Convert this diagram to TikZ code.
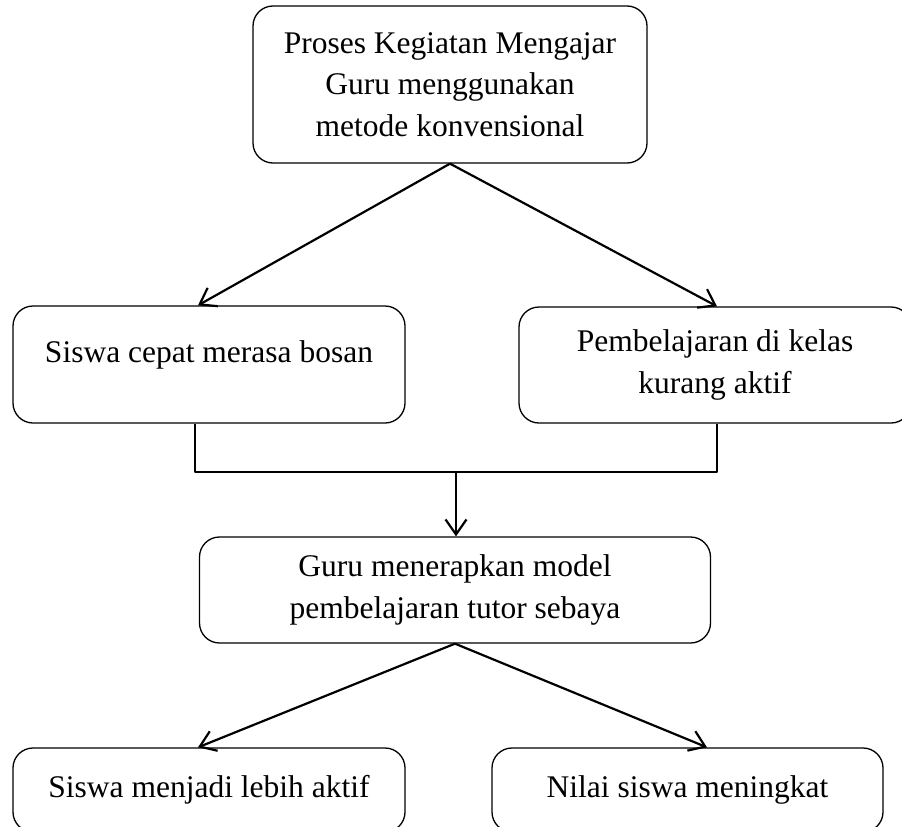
\documentclass[tikz,border=0pt]{standalone}
\usepackage{fontspec}
\setmainfont{Liberation Serif}
\usetikzlibrary{arrows.meta}
\begin{document}
\begin{tikzpicture}[x=1pt,y=-1pt,line join=round,
	kotak/.style={draw,rounded corners=20pt,line width=1.3pt,align=center,inner sep=0pt,
		font=\fontsize{31.5}{41.5}\selectfont},
	panah/.style={line width=2.2pt,-{Straight Barb[length=15pt,width=21pt,line width=2.2pt]}},
	garis/.style={line width=2.2pt}]
			\def \lebar{392};
			\useasboundingbox (0,0) rectangle (902,827);
			\clip (0,0) rectangle (902,827);
			\node[kotak,minimum width=394,minimum height=157] (proses) at (450,84.5) {Proses Kegiatan Mengajar\\Guru menggunakan\\metode konvensional};
			\node[kotak,minimum width=\lebar,minimum height=117,text depth=26pt] (bosan) at (209,364.5) {Siswa cepat merasa bosan};
			\node[kotak,minimum width=\lebar,minimum height=116] (kurang) at (715,365) {Pembelajaran di kelas\\kurang aktif};
			\node[kotak,minimum width=511,minimum height=106] (tutor) at (455,590) {Guru menerapkan model\\pembelajaran tutor sebaya};
			\node[kotak,minimum width=\lebar,minimum height=84] (aktif) at (209,790) {Siswa menjadi lebih aktif};
			\node[kotak,minimum width=391,minimum height=84] (nilai) at (687.5,790) {Nilai siswa meningkat};
			\coordinate (gabung) at (456,472);
			\draw[panah] (proses.south) -- ([xshift=-11pt]bosan.north);
			\draw[panah] (proses.south) -- ([xshift=2pt]kurang.north);
			\draw[garis] ([xshift=-14pt]bosan.south) |- (gabung) -| ([xshift=2pt]kurang.south);
			\draw[panah] (gabung) -- (gabung |- tutor.north);
			\draw[panah] (tutor.south) -- ([xshift=-11pt]aktif.north);
			\draw[panah] (tutor.south) -- ([xshift=19.5pt]nilai.north);
		\end{tikzpicture}
\end{document}
